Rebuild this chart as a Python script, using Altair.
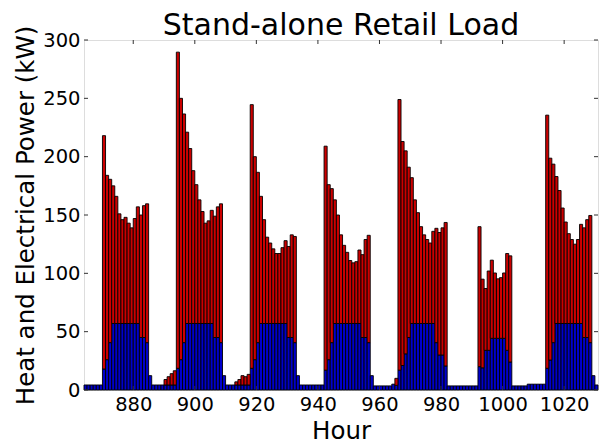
import altair as alt
import pandas as pd

# Hourly loads for one week, hours 864-1030
HOUR_START = 864

# Electrical load (kW), one list per day
elec_days = [
    [4.3] * 6 + [18, 26, 40.6, 57, 57, 57, 57, 57, 57, 57, 57, 57, 45, 45, 40.6] + [12.3, 4.3, 4.3],
    [4.3] * 6 + [18.6, 26, 40.6, 57, 57, 57, 57, 57, 57, 57, 57, 57, 45, 45, 40.6] + [12.3, 4.3, 4.3],
    [4.3] * 6 + [18.6, 26, 40.6, 57, 57, 57, 57, 57, 57, 57, 57, 57, 45, 45, 40.6] + [12.3, 4.3, 4.3],
    [4.3] * 6 + [17, 26, 40.6, 57, 57, 57, 57, 57, 57, 57, 57, 57, 45, 45, 40.6] + [12.3, 3.5, 3.5],
    [3.5, 3.5, 3.5, 3.5, 5, 4] + [17, 21, 31, 45, 57, 57, 57, 57, 57, 57, 57, 57, 40.6, 30, 30, 20.6] + [3.5, 3.5],
    [3.5] * 8 + [20, 19, 34, 34, 44.3, 44.3, 44.3, 44.3, 44.3, 34, 24] + [3.5] * 5,
    [5] * 6 + [18.6, 25.7, 40.6, 57, 57, 57, 57, 57, 57, 57, 57, 57, 45, 45, 40.6] + [12.3, 4.3],
]

# Heat load (kW) stacked above the electrical load
heat_days = [
    [0] * 6 + [200, 158, 140, 118, 109, 94, 89, 91, 86, 82, 90, 100, 105, 113, 119] + [0, 0, 0],
    [0, 0, 4.7, 7.1, 9.7, 12.2] + [271, 224, 196, 164, 150, 131, 119, 106, 96, 86, 88, 97, 104, 112, 119] + [0, 0, 0],
    [0, 2.7, 4.7, 8, 7.1, 9.1] + [226, 174, 146, 109, 89, 74, 69, 64, 60, 60, 65, 71, 78, 88, 91] + [0, 0, 0],
    [0] * 6 + [192, 150, 132, 106, 93, 76, 67, 61, 54, 52, 53, 63, 71, 84, 92] + [0, 0, 0],
    [0, 0, 0, 0, 0, 6] + [232, 192, 174, 146, 125, 106, 95, 83, 76, 72, 69, 79, 98, 105, 109, 123] + [0, 0],
    [0] * 8 + [120, 76, 53, 68, 67, 56, 51, 52, 56, 83, 91] + [0] * 5,
    [0] * 6 + [217, 173, 153, 126, 114, 99, 87, 77, 72, 68, 72, 85, 94, 101, 109] + [0, 0],
]

x_ticks = [880, 900, 920, 940, 960, 980, 1000, 1020]
y_ticks = [0, 50, 100, 150, 200, 250, 300]
title_text = "Stand-alone Retail Load"

electric = [v for day in elec_days for v in day]
heat = [v for day in heat_days for v in day]
hours = list(range(HOUR_START, HOUR_START + len(electric)))

df = pd.DataFrame({"hour": hours, "electric": electric, "heat": heat})
df["end"] = df["hour"] + 1
df["total"] = df["electric"] + df["heat"]

W, H = 514, 350
FONT = "DejaVu Sans"

xscale = alt.Scale(domain=[864, 1031], nice=False, zero=False)
yscale = alt.Scale(domain=[0, 300], nice=False)

xaxis = alt.Axis(values=x_ticks, format="d", title="Hour", ticks=False, domain=False, grid=False,
                 labelFontSize=19.5, titleFontSize=24.5, labelPadding=5, titlePadding=6,
                 labelOverlap=False, labelFlush=False, labelColor="black", titleColor="black",
                 titleFontWeight="normal", labelFont=FONT, titleFont=FONT)
yaxis = alt.Axis(values=y_ticks, format="d", title="Heat and Electrical Power (kW)", ticks=False,
                 domain=False, grid=False, labelFontSize=19.5, titleFontSize=24.5, labelPadding=4,
                 titlePadding=4, labelOverlap=False, labelFlush=False, labelColor="black",
                 titleColor="black", titleFontWeight="normal", labelFont=FONT, titleFont=FONT)

base = alt.Chart(df)

elec_bars = base.mark_rect(fill="#0000cc", stroke="black", strokeWidth=0.9).encode(
    x=alt.X("hour:Q", scale=xscale, axis=xaxis),
    x2="end:Q",
    y=alt.Y("electric:Q", scale=yscale, axis=yaxis),
    y2=alt.datum(0),
)

heat_bars = base.transform_filter("datum.heat > 0").mark_rect(
    fill="#cc0000", stroke="black", strokeWidth=0.9
).encode(
    x=alt.X("hour:Q", scale=xscale),
    x2="end:Q",
    y=alt.Y("electric:Q", scale=yscale),
    y2="total:Q",
)

# inward-pointing tick marks on all four sides of the frame
xt = alt.Chart(pd.DataFrame({"t": x_ticks}))
yt = alt.Chart(pd.DataFrame({"t": y_ticks}))
tick_style = dict(color="#333333", strokeWidth=1)
top_ticks = xt.mark_rule(**tick_style).encode(x=alt.X("t:Q", scale=xscale), y=alt.value(0), y2=alt.value(4))
bottom_ticks = xt.mark_rule(**tick_style).encode(x=alt.X("t:Q", scale=xscale), y=alt.value(H - 4), y2=alt.value(H))
left_ticks = yt.mark_rule(**tick_style).encode(y=alt.Y("t:Q", scale=yscale), x=alt.value(0), x2=alt.value(4))
right_ticks = yt.mark_rule(**tick_style).encode(y=alt.Y("t:Q", scale=yscale), x=alt.value(W - 4), x2=alt.value(W))

# chart title, centred over the plot area
title_mark = alt.Chart(pd.DataFrame({"label": [title_text]})).mark_text(
    font=FONT, fontSize=30, color="black", align="center", baseline="alphabetic"
).encode(text="label:N", x=alt.value(W / 2), y=alt.value(-5))

chart = alt.layer(
    elec_bars, heat_bars, top_ticks, bottom_ticks, left_ticks, right_ticks, title_mark
).properties(
    width=W,
    height=H,
    autosize=alt.AutoSizeParams(type="none"),
    padding={"left": 84, "top": 40, "right": 1, "bottom": 58},
).configure_view(stroke="#222222", strokeWidth=1).configure(background="white")

chart.save("out.html", embed_options={"renderer": "svg", "actions": False})
